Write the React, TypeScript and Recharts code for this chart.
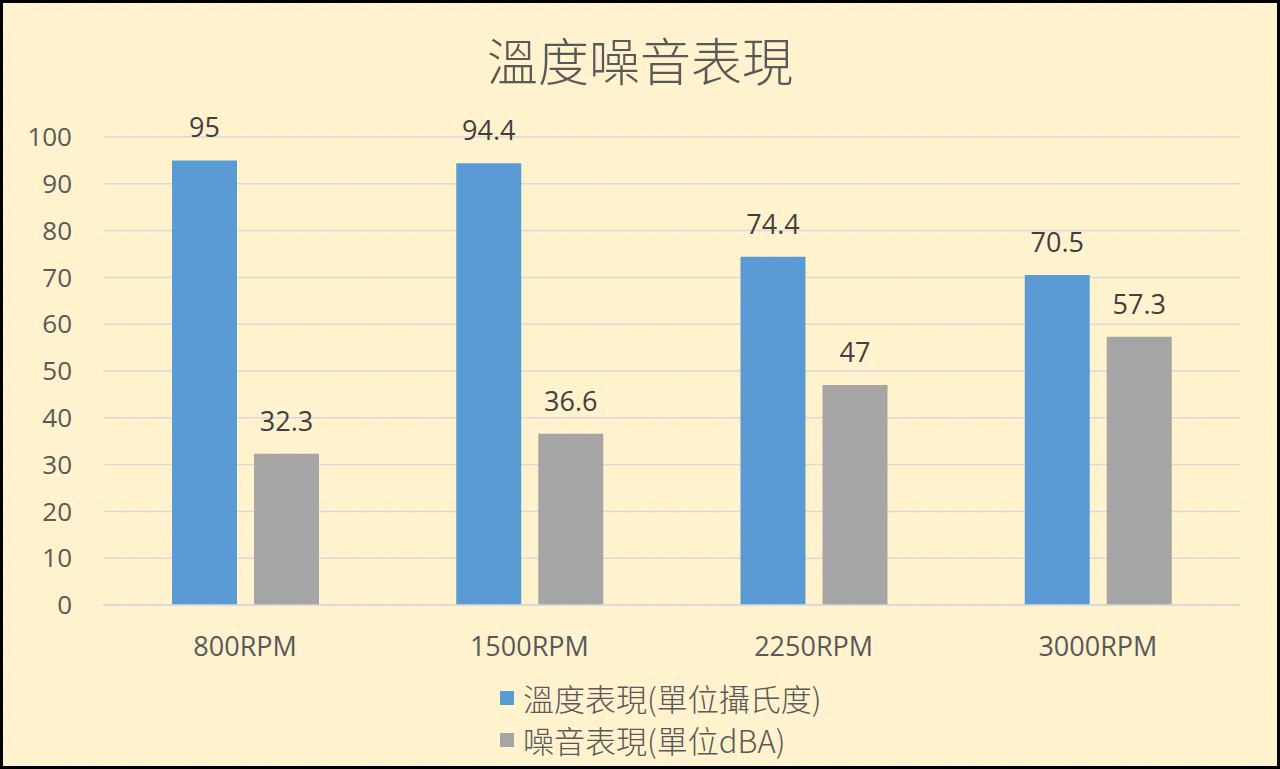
import React from "react";
import { BarChart, Bar, XAxis, YAxis, CartesianGrid, LabelList, Legend } from "recharts";

const categories = ["800RPM", "1500RPM", "2250RPM", "3000RPM"];
const temperature = [95, 94.4, 74.4, 70.5];
const noise = [32.3, 36.6, 47, 57.3];
const yTicks = [0, 10, 20, 30, 40, 50, 60, 70, 80, 90, 100];
const seriesNames = ["溫度表現(單位攝氏度)", "噪音表現(單位dBA)"];
const title = "溫度噪音表現";

const data = categories.map((c, i) => ({ name: c, temp: temperature[i], noise: noise[i] }));

const FONT = '"Open Sans", "Noto Sans CJK TC", sans-serif';
const CJK = '"Noto Sans CJK TC", "Open Sans", sans-serif';
const BLUE = "#5B9BD5";
const GRAY = "#A5A5A5";

const LegendContent = () => (
  <div style={{ display: "flex", flexDirection: "column", alignItems: "flex-start", marginLeft: 500, fontFamily: CJK, fontWeight: 300, fontSize: 31, color: "#595959", lineHeight: "42px" }}>
    {seriesNames.map((n, i) => (
      <div key={n} style={{ display: "flex", alignItems: "center" }}>
        <span style={{ display: "inline-block", width: 14, height: 14, background: i === 0 ? BLUE : GRAY, marginRight: 9 }} />
        <span>{n}</span>
      </div>
    ))}
  </div>
);

export default function App() {
  return (
    <div
      style={{
        position: "absolute",
        left: 0,
        top: 0,
        width: 1280,
        height: 769,
        boxSizing: "border-box",
        border: "3px solid #000",
        backgroundColor: "#FFF2CC",
        backgroundImage:
          "radial-gradient(circle, rgba(255,255,255,0.75) 1.2px, transparent 1.6px), radial-gradient(circle, rgba(255,255,255,0.75) 1.2px, transparent 1.6px)",
        backgroundSize: "22px 22px, 22px 22px",
        backgroundPosition: "0 0, 11px 11px",
        overflow: "hidden",
      }}
    >
      <div style={{ position: "absolute", left: 0, top: 24, width: 1274, textAlign: "center", fontFamily: CJK, fontWeight: 300, fontSize: 51, color: "#595959", lineHeight: "64px" }}>
        {title}
      </div>
      <div style={{ position: "absolute", left: -3, top: -3 }}>
        <BarChart
          width={1280}
          height={769}
          data={data}
          margin={{ top: 137, right: 40, left: 0, bottom: 50 }}
          barCategoryGap={69}
          barGap={17}
        >
          <CartesianGrid vertical={false} stroke="#D9D9D9" strokeWidth={1.5} />
          <XAxis
            dataKey="name"
            axisLine={{ stroke: "#D9D9D9", strokeWidth: 1.5 }}
            tickLine={false}
            tickSize={0}
            tickMargin={32}
            tick={{ fill: "#595959", fontSize: 27, fontFamily: FONT }}
          />
          <YAxis
            domain={[0, 100]}
            ticks={yTicks}
            width={103}
            axisLine={false}
            tickLine={false}
            tickSize={0}
            tickMargin={31}
            tick={{ fill: "#595959", fontSize: 26, fontFamily: FONT }}
          />
          <Legend verticalAlign="bottom" content={<LegendContent />} wrapperStyle={{ bottom: 8 }} />
          <Bar dataKey="temp" name={seriesNames[0]} fill={BLUE} isAnimationActive={false}>
            <LabelList dataKey="temp" position="top" offset={23} style={{ fill: "#404040", fontSize: 27, fontFamily: FONT }} />
          </Bar>
          <Bar dataKey="noise" name={seriesNames[1]} fill={GRAY} isAnimationActive={false}>
            <LabelList dataKey="noise" position="top" offset={23} style={{ fill: "#404040", fontSize: 27, fontFamily: FONT }} />
          </Bar>
        </BarChart>
      </div>
    </div>
  );
}
